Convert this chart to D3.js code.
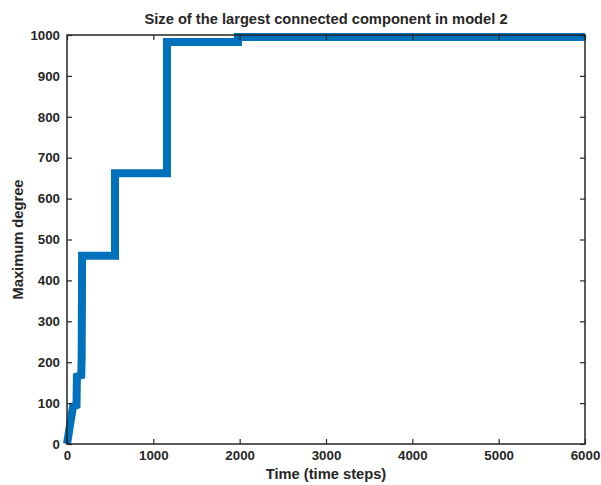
<!DOCTYPE html>
<html>
<head>
<meta charset="utf-8">
<script src="https://cdn.jsdelivr.net/npm/d3@7"></script>
<style>
  html, body { margin: 0; padding: 0; background: #fff; }
  svg { display: block; }
  text { font-family: "Liberation Sans", Arial, Helvetica, sans-serif; fill: #262626; }
</style>
</head>
<body>
<svg id="chart" width="601" height="485"></svg>
<script>
// Data: time step vs size of the largest connected component
const timeSteps = [0, 30, 60, 70, 110, 115, 165, 170, 175, 556, 556, 1158, 1158, 1980, 1980, 6000];
const sizes     = [0, 40, 80, 92, 95, 165, 168, 213, 460, 460, 662, 662, 983, 983, 995, 995];
const xTicks = [0, 1000, 2000, 3000, 4000, 5000, 6000];
const yTicks = [0, 100, 200, 300, 400, 500, 600, 700, 800, 900, 1000];
const titleText = "Size of the largest connected component in model 2";
const xLabelText = "Time (time steps)";
const yLabelText = "Maximum degree";

const svg = d3.select("#chart");
const mLeft = 67, mRight = 585, mTop = 35, mBottom = 444;

const x = d3.scaleLinear().domain([0, 6000]).range([mLeft, mRight]);
const y = d3.scaleLinear().domain([0, 1000]).range([mBottom, mTop]);

const data = timeSteps.map((t, i) => ({t, v: sizes[i]}));

// Line
svg.append("path")
  .datum(data)
  .attr("fill", "none")
  .attr("stroke", "#0072BD")
  .attr("stroke-width", 8)
  .attr("stroke-linejoin", "miter")
  .attr("stroke-linecap", "butt")
  .attr("d", d3.line().x(d => x(d.t)).y(d => y(d.v)));

// Axes (ticks inward)
const tickLen = 5;
const axisColor = "#262626";

const xAxisB = d3.axisBottom(x).tickValues(xTicks).tickSize(-tickLen).tickPadding(7).tickFormat(d3.format("d"));
const xAxisT = d3.axisTop(x).tickValues(xTicks).tickSize(-tickLen).tickFormat("");
const yAxisL = d3.axisLeft(y).tickValues(yTicks).tickSize(-tickLen).tickPadding(7).tickFormat(d3.format("d"));
const yAxisR = d3.axisRight(y).tickValues(yTicks).tickSize(-tickLen).tickFormat("");

function styleAxis(g) {
  g.selectAll(".tick line").attr("stroke", axisColor).attr("stroke-width", 1.2);
  g.selectAll(".tick text").attr("fill", axisColor)
    .style("font-family", '"Liberation Sans", Arial, sans-serif')
    .style("font-size", "13.3px").style("font-weight", "bold");
}

svg.append("g").attr("transform", `translate(0,${mBottom})`).call(xAxisB).call(styleAxis);
svg.append("g").attr("transform", `translate(0,${mTop})`).call(xAxisT).call(styleAxis);
svg.append("g").attr("transform", `translate(${mLeft},0)`).call(yAxisL).call(styleAxis);
svg.append("g").attr("transform", `translate(${mRight},0)`).call(yAxisR).call(styleAxis);

svg.selectAll(".domain").remove();
svg.append("rect")
  .attr("x", mLeft).attr("y", mTop)
  .attr("width", mRight - mLeft).attr("height", mBottom - mTop)
  .attr("fill", "none").attr("stroke", axisColor).attr("stroke-width", 1.5);

// Title
svg.append("text")
  .attr("x", (mLeft + mRight) / 2).attr("y", 24)
  .attr("text-anchor", "middle")
  .style("font-size", "14.7px").style("font-weight", "bold")
  .text(titleText);

// X label
svg.append("text")
  .attr("x", (mLeft + mRight) / 2).attr("y", 479)
  .attr("text-anchor", "middle")
  .style("font-size", "14.7px").style("font-weight", "bold")
  .text(xLabelText);

// Y label
svg.append("text")
  .attr("transform", `translate(23,${(mTop + mBottom) / 2}) rotate(-90)`)
  .attr("text-anchor", "middle")
  .style("font-size", "14.7px").style("font-weight", "bold")
  .text(yLabelText);
</script>
</body>
</html>
